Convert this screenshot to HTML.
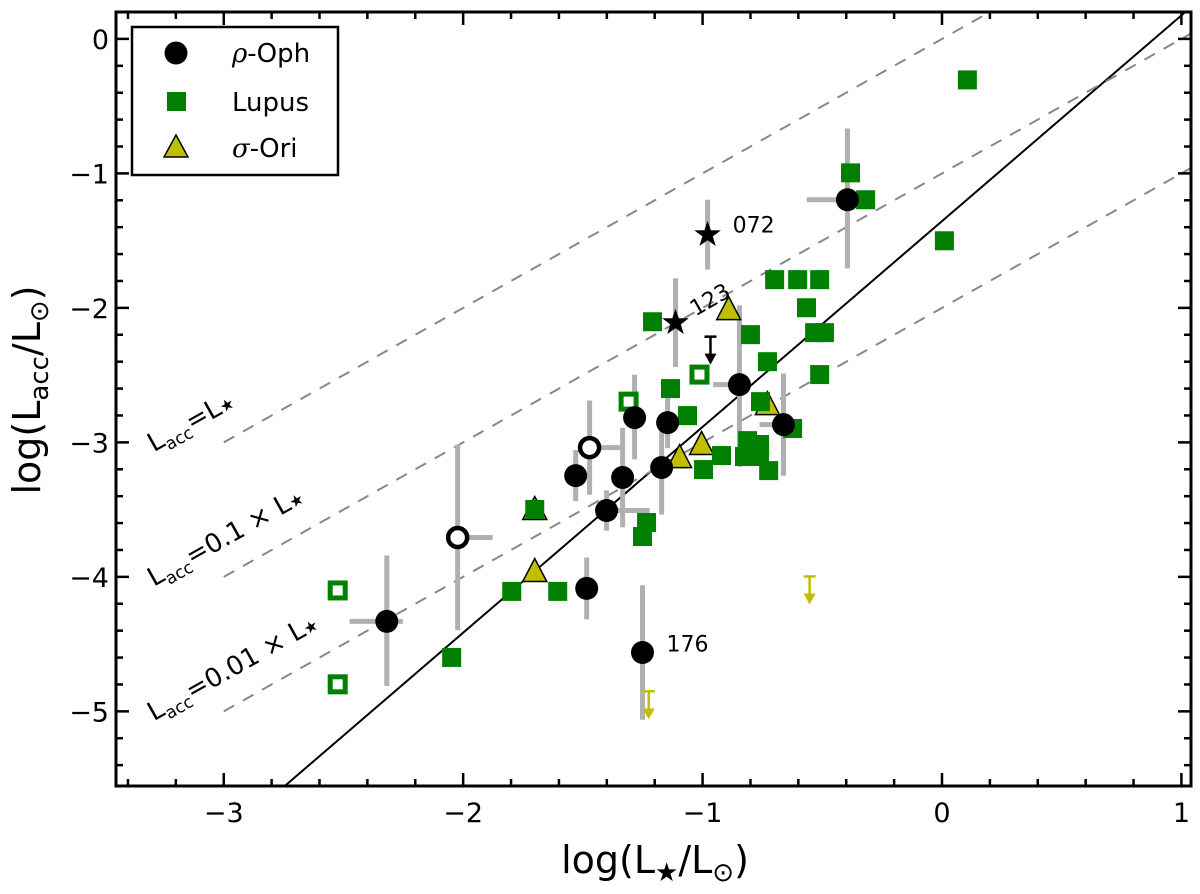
<!DOCTYPE html>
<html><head><meta charset="utf-8">
<style>
html,body{margin:0;padding:0;background:#fff;}
svg{display:block;font-family:"DejaVu Sans","Liberation Sans",sans-serif;}
</style></head>
<body>
<svg id="chart" width="1200" height="894" viewBox="0 0 1200 894" xmlns="http://www.w3.org/2000/svg">
<g id="grid-lines"></g>
<g id="errbars"></g>
<g id="marks"></g>
<g id="axes"></g>
<g id="annot"></g>
</svg>
<script>
// ---- data ----
const ophX = [-0.395,-0.846,-0.662,-1.146,-1.284,-1.171,-1.334,-1.530,-1.401,-1.484,-2.319,-1.251];
const ophY = [-1.196,-2.571,-2.868,-2.853,-2.816,-3.187,-3.261,-3.247,-3.507,-4.086,-4.331,-4.562];
const ophYerrUp = [0.53,0.59,0.38,0.19,0.32,0.35,0.37,0.19,0.15,0.23,0.49,0.50];
const ophYerrDn = [0.51,0.61,0.38,0.19,0.31,0.35,0.37,0.19,0.15,0.23,0.48,0.50];
const ophXerrL = [0.17,0.11,0.10,0,0,0,0,0,0,0,0.155,0];
const ophXerrR = [0,0,0.07,0,0,0,0,0,0.18,0,0.067,0];
const ophOpenX = [-1.472,-2.023];
const ophOpenY = [-3.039,-3.707];
const ophOpenYerr = [0.35,0.69];
const ophOpenXerrR = [0.146,0.146];
const starX = [-0.979,-1.113];
const starY = [-1.456,-2.110];
const starYerr = [0.26,0.33];
const starLabels = ["072","123"];
const lupX = [0.106,-0.382,-0.319,0.010,-0.699,-0.603,-0.511,-0.566,-0.532,-0.491,-0.800,-1.209,-0.729,-0.511,-1.134,-1.063,-0.758,-0.624,-0.812,-0.762,-0.825,-0.762,-0.921,-0.996,-0.724,-1.701,-1.234,-1.251,-1.797,-1.605,-2.048];
const lupY = [-0.305,-0.996,-1.196,-1.501,-1.790,-1.790,-1.790,-1.999,-2.184,-2.184,-2.199,-2.103,-2.400,-2.496,-2.600,-2.801,-2.697,-2.897,-2.987,-3.016,-3.105,-3.105,-3.098,-3.202,-3.210,-3.499,-3.596,-3.700,-4.108,-4.108,-4.599];
const lupOpenX = [-1.013,-1.309,-2.524,-2.524];
const lupOpenY = [-2.496,-2.697,-4.101,-4.799];
const oriX = [-0.891,-1.701,-1.701,-1.096,-1.004,-0.729];
const oriY = [-2.013,-3.499,-3.960,-3.113,-3.016,-2.719];
const oriLimX = [-0.553,-1.225];
const oriLimY = [-3.997,-4.851];
const ophLimX = [-0.967];
const ophLimY = [-2.214];
const fitSlope = 1.53, fitIntercept = -1.355;
const ratioOffsets = [0,-1,-2];
const ratioLabels = ["L<tspan font-size='17' dy='6'>acc</tspan><tspan dy='-6'>=L</tspan><tspan font-size='16'>★</tspan>",
 "L<tspan font-size='17' dy='6'>acc</tspan><tspan dy='-6'>=0.1 × L</tspan><tspan font-size='16'>★</tspan>",
 "L<tspan font-size='17' dy='6'>acc</tspan><tspan dy='-6'>=0.01 × L</tspan><tspan font-size='16'>★</tspan>"];
const xTicks = [-3,-2,-1,0,1];
const yTicks = [0,-1,-2,-3,-4,-5];
const xTickLabels = ["−3","−2","−1","0","1"];
const yTickLabels = ["0","−1","−2","−3","−4","−5"];
// ---- axes ----
const L=116,R=1191,T=12,B=786;
const XMIN=-3.45, XMAX=1.04, YMIN=-5.555, YMAX=0.2;
const sx=v=>L+(v-XMIN)/(XMAX-XMIN)*(R-L);
const sy=v=>B-(v-YMIN)/(YMAX-YMIN)*(B-T);
const NS="http://www.w3.org/2000/svg";
function mk(tag,attrs,parent){const e=document.createElementNS(NS,tag);for(const k in attrs)e.setAttribute(k,attrs[k]);parent.appendChild(e);return e;}
const G=id=>document.getElementById(id);
const green="#007f00", olive="#bfbf00", gray="#b0b0b0";
const defs=mk('defs',{},G('chart'));
const cp=mk('clipPath',{id:'clip'},defs);mk('rect',{x:L,y:T,width:R-L,height:B-T},cp);
G('grid-lines').setAttribute('clip-path','url(#clip)');
let fl=mk('line',{x1:sx(XMIN),y1:sy(fitSlope*XMIN+fitIntercept),x2:sx(XMAX),y2:sy(fitSlope*XMAX+fitIntercept),stroke:'#000','stroke-width':2},G('grid-lines'));


ratioOffsets.forEach((o,i)=>{
  const d=mk('line',{x1:sx(-3),y1:sy(-3+o),x2:sx(XMAX),y2:sy(XMAX+o),stroke:'#888','stroke-width':2,'stroke-dasharray':'12,10'},G('grid-lines'));
  
  
  const tx=mk('text',{x:sx(-3)-70,y:sy(-3+o)+10,'font-size':26,transform:`rotate(-29.3 ${sx(-3)-70} ${sy(-3+o)+10})`},G('annot'));
  tx.innerHTML=ratioLabels[i];
  
  
});
function vbar(x,y1,y2){const l=mk('line',{x1:sx(x),x2:sx(x),y1:sy(y1),y2:sy(y2),stroke:gray,'stroke-width':5},G('errbars'));}
function hbar(y,x1,x2){const l=mk('line',{y1:sy(y),y2:sy(y),x1:sx(x1),x2:sx(x2),stroke:gray,'stroke-width':5},G('errbars'));}
ophX.forEach((x,i)=>{vbar(x,ophY[i]+ophYerrUp[i],ophY[i]-ophYerrDn[i]);if(ophXerrL[i]||ophXerrR[i])hbar(ophY[i],x-ophXerrL[i],x+ophXerrR[i]);});
ophOpenX.forEach((x,i)=>{vbar(x,ophOpenY[i]+ophOpenYerr[i],ophOpenY[i]-ophOpenYerr[i]);hbar(ophOpenY[i],x,x+ophOpenXerrR[i]);});
starX.forEach((x,i)=>vbar(x,starY[i]+starYerr[i],starY[i]-starYerr[i]));
const M=G('marks');
function tri(x,y){const X=sx(x),Y=sy(y);return `${X},${Y-13} ${X-12},${Y+10} ${X+12},${Y+10}`;}
oriX.forEach((x,i)=>{const p=mk('polygon',{points:tri(x,oriY[i]),fill:olive,stroke:'#000','stroke-width':1.5},M);});
lupX.forEach((x,i)=>{const r=mk('rect',{x:sx(x)-9.5,y:sy(lupY[i])-9.5,width:19,height:19,fill:green},M);});
lupOpenX.forEach((x,i)=>{const r=mk('rect',{x:sx(x)-7.5,y:sy(lupOpenY[i])-7.5,width:15,height:15,fill:'#fff',stroke:green,'stroke-width':5},M);});
ophX.forEach((x,i)=>{const c=mk('circle',{cx:sx(x),cy:sy(ophY[i]),r:11.5,fill:'#000'},M);});
ophOpenX.forEach((x,i)=>{const c=mk('circle',{cx:sx(x),cy:sy(ophOpenY[i]),r:9.5,fill:'#fff',stroke:'#000','stroke-width':4.5},M);});
function star(X,Y,R,r){let p=[];for(let k=0;k<10;k++){const a=-Math.PI/2+k*Math.PI/5,rr=k%2?r:R;p.push((X+rr*Math.cos(a)).toFixed(1)+','+(Y+rr*Math.sin(a)).toFixed(1));}return p.join(' ');}
starX.forEach((x,i)=>{const s=mk('polygon',{points:star(sx(x),sy(starY[i]),14,5.5),fill:'#000'},M);});
function arrow(x,y,col,name){const X=sx(x),Y=sy(y),g=mk('g',{},M);
 mk('line',{x1:X-6,x2:X+6,y1:Y,y2:Y,stroke:col,'stroke-width':2.5},g);
 mk('line',{x1:X,x2:X,y1:Y,y2:Y+18,stroke:col,'stroke-width':2.5},g);
 mk('polygon',{points:`${X-6},${Y+17} ${X+6},${Y+17} ${X},${Y+28}`,fill:col},g);
 
 }
oriLimX.forEach((x,i)=>arrow(x,oriLimY[i],olive,'sigma-ori-upper-limit'));
ophLimX.forEach((x,i)=>arrow(x,ophLimY[i],'#000','rho-oph-upper-limit'));
const A=G('annot');
let t=mk('text',{x:sx(starX[0])+25,y:sy(starY[0])-2,'font-size':22},A);t.textContent=starLabels[0];

t=mk('text',{x:sx(starX[1])+20,y:sy(starY[1])-6,'font-size':22,transform:`rotate(-30 ${sx(starX[1])+20} ${sy(starY[1])-6})`},A);t.textContent=starLabels[1];

t=mk('text',{x:sx(ophX[11])+24,y:sy(ophY[11])-1,'font-size':22},A);t.textContent="176";

const AX=G('axes');
mk('rect',{x:L,y:T,width:R-L,height:B-T,fill:'none',stroke:'#000','stroke-width':3},AX);
for(let k=-34;k<=10;k+=2){const v=k/10,X=sx(v);const major=Math.abs(v-Math.round(v))<1e-6;const len=major?13:7;
 mk('line',{x1:X,x2:X,y1:B,y2:B-len,stroke:'#000','stroke-width':2.5},AX);
 mk('line',{x1:X,x2:X,y1:T,y2:T+len,stroke:'#000','stroke-width':2.5},AX);}
for(let k=-54;k<=2;k+=2){const v=k/10,Y=sy(v);const major=Math.abs(v-Math.round(v))<1e-6;const len=major?13:7;
 mk('line',{x1:L,x2:L+len,y1:Y,y2:Y,stroke:'#000','stroke-width':2.5},AX);
 mk('line',{x1:R,x2:R-len,y1:Y,y2:Y,stroke:'#000','stroke-width':2.5},AX);}
xTicks.forEach((v,i)=>{const e=mk('text',{x:sx(v),y:B+36,'font-size':27,'text-anchor':'middle'},AX);e.textContent=xTickLabels[i];});
yTicks.forEach((v,i)=>{const e=mk('text',{x:L-7,y:sy(v)+10,'font-size':27,'text-anchor':'end'},AX);e.textContent=yTickLabels[i];});
let xt=mk('text',{x:655,y:873,'font-size':38,'text-anchor':'middle'},AX);
xt.innerHTML="log(L<tspan font-size='26' dy='8'>★</tspan><tspan dy='-8'>/L</tspan><tspan font-size='26' dy='8'>⊙</tspan><tspan dy='-8'>)</tspan>";

let yt=mk('text',{x:0,y:0,'font-size':38,'text-anchor':'middle',transform:'translate(40,390) rotate(-90)'},AX);
yt.innerHTML="log(L<tspan font-size='26' dy='8'>acc</tspan><tspan dy='-8'>/L</tspan><tspan font-size='26' dy='8'>⊙</tspan><tspan dy='-8'>)</tspan>";

const lg=mk('g',{},AX);


mk('rect',{x:132,y:27,width:206,height:148,fill:'#fff',stroke:'#000','stroke-width':2.5},lg);
mk('circle',{cx:176,cy:53,r:11.5,fill:'#000'},lg);
mk('rect',{x:167,y:92,width:19,height:19,fill:green},lg);
mk('polygon',{points:'176,135 164,157 188,157',fill:olive,stroke:'#000','stroke-width':1.5},lg);
const ln=["<tspan font-style='italic' font-family='DejaVu Serif'>ρ</tspan>-Oph","Lupus","<tspan font-style='italic' font-family='DejaVu Serif'>σ</tspan>-Ori"];
[62,111,157].forEach((y,i)=>{const e=mk('text',{x:232,y:y,'font-size':26},lg);e.innerHTML=ln[i];});
</script>
</body></html>
